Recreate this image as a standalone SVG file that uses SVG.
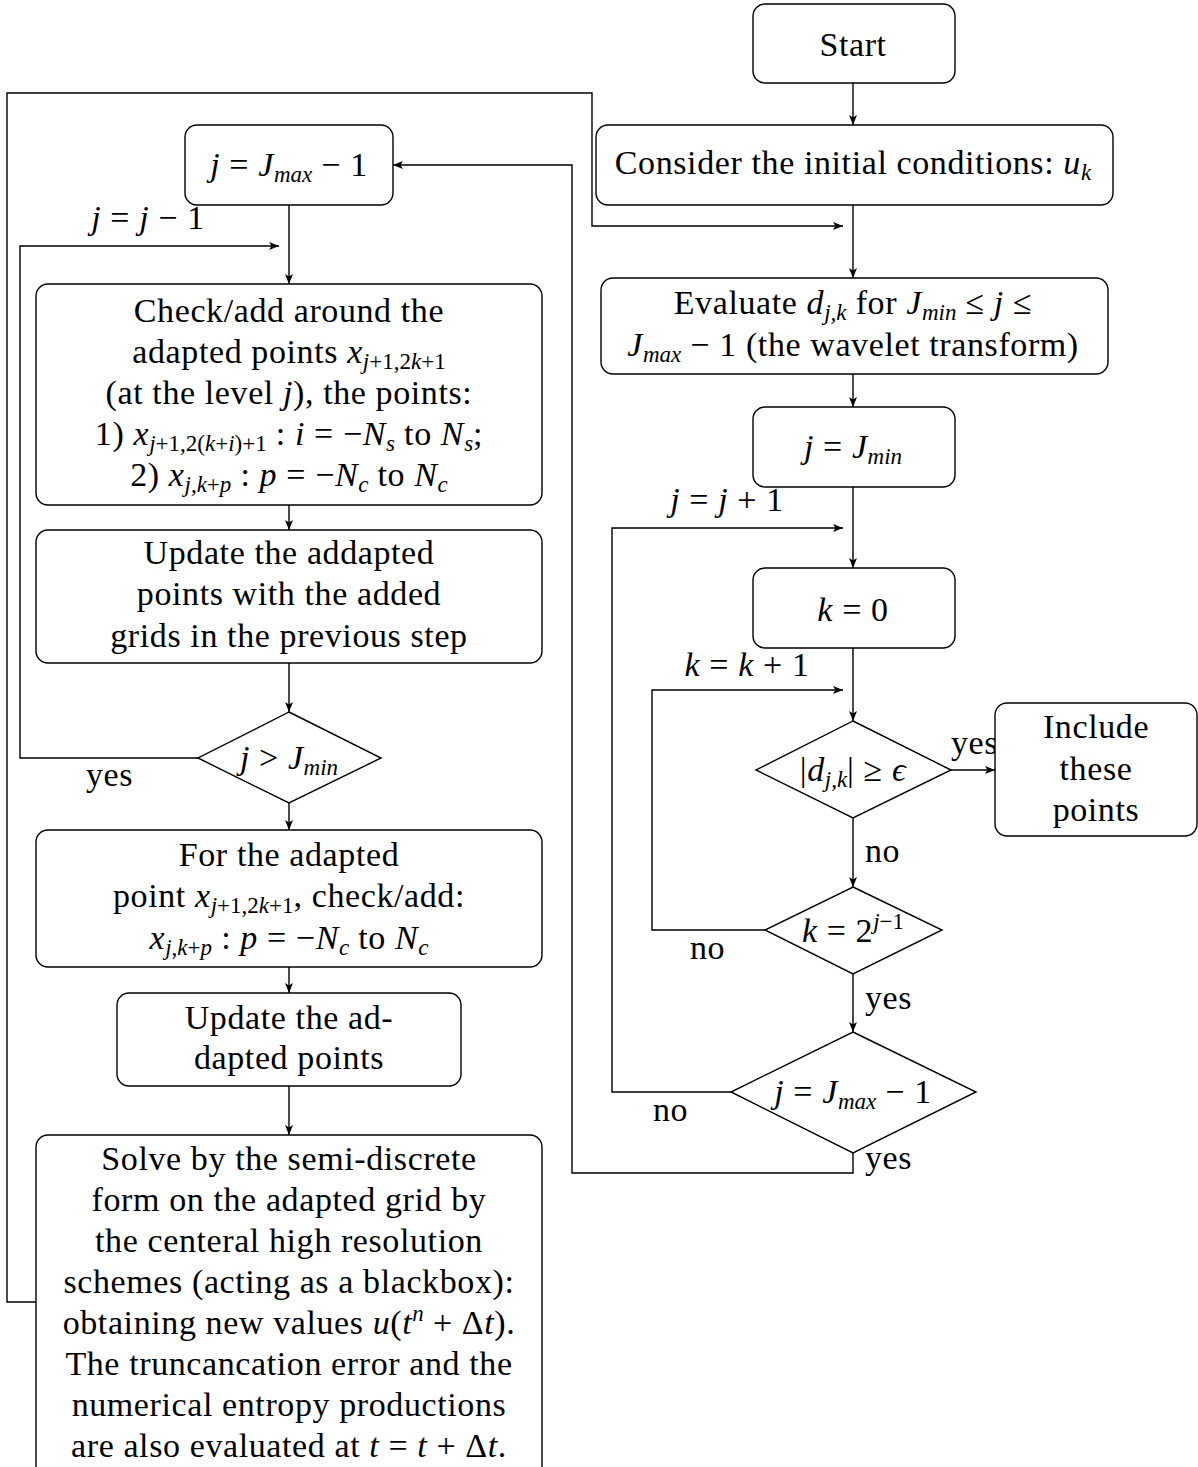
<svg xmlns="http://www.w3.org/2000/svg" width="1198" height="1467" viewBox="0 0 1198 1467">
<style>
.box{fill:#fff;stroke:#000;stroke-width:1.4}
.dia{fill:#fff;stroke:#000;stroke-width:1.4}
.t{font-family:"Liberation Serif",serif;font-size:34px;letter-spacing:0.6px;text-anchor:middle;fill:#000}
.l{font-family:"Liberation Serif",serif;font-size:34px;letter-spacing:0.6px;fill:#000}
.i{font-style:italic}
.s{font-size:23px;letter-spacing:0}
.c{fill:none;stroke:#000;stroke-width:1.4}
</style>
<defs>
<marker id="a" markerUnits="userSpaceOnUse" markerWidth="11" markerHeight="9" refX="10" refY="4.5" orient="auto">
<path d="M0,0.5 L10,4.5 L0,8.5 L2.5,4.5 z" fill="#000"/>
</marker>
</defs>
<g id="connectors">
<path class="c" d="M853,83 V125" marker-end="url(#a)"/>
<path class="c" d="M853,205 V278" marker-end="url(#a)"/>
<path class="c" d="M853,374 V407" marker-end="url(#a)"/>
<path class="c" d="M853,487 V568" marker-end="url(#a)"/>
<path class="c" d="M853,648 V721" marker-end="url(#a)"/>
<path class="c" d="M951,770 H995" marker-end="url(#a)"/>
<path class="c" d="M853,818 V887" marker-end="url(#a)"/>
<path class="c" d="M853,974 V1032" marker-end="url(#a)"/>
<path class="c" d="M765,930 H652 V690 H843" marker-end="url(#a)"/>
<path class="c" d="M731,1092 H612 V528 H843" marker-end="url(#a)"/>
<path class="c" d="M853,1153 V1173 H572 V165 H393" marker-end="url(#a)"/>
<path class="c" d="M289,205 V284" marker-end="url(#a)"/>
<path class="c" d="M289,505 V530" marker-end="url(#a)"/>
<path class="c" d="M289,663 V712" marker-end="url(#a)"/>
<path class="c" d="M198,758 H20 V246 H279" marker-end="url(#a)"/>
<path class="c" d="M289,803 V830" marker-end="url(#a)"/>
<path class="c" d="M289,967 V993" marker-end="url(#a)"/>
<path class="c" d="M289,1086 V1135" marker-end="url(#a)"/>
<path class="c" d="M36,1302 H7 V93 H592 V226 H843" marker-end="url(#a)"/>
</g>
<g id="labels">
<text class="t" x="727" y="511"><tspan class="i">j</tspan> = <tspan class="i">j</tspan> + 1</text>
<text class="t" x="747" y="676"><tspan class="i">k</tspan> = <tspan class="i">k</tspan> + 1</text>
<text class="l" x="951" y="754">yes</text>
<text class="l" x="865" y="862">no</text>
<text class="l" x="690" y="959">no</text>
<text class="l" x="865" y="1009">yes</text>
<text class="l" x="653" y="1121">no</text>
<text class="l" x="865" y="1169">yes</text>
<text class="t" x="148" y="229"><tspan class="i">j</tspan> = <tspan class="i">j</tspan> − 1</text>
<text class="l" x="86" y="786">yes</text>
</g>
<g id="start">
<rect class="box" x="753" y="4" width="202" height="79" rx="12"/>
<text class="t" x="853" y="56">Start</text>
</g>
<g id="initial">
<rect class="box" x="596" y="125" width="517" height="80" rx="12"/>
<text class="t" x="853" y="174">Consider the initial conditions: <tspan class="i">u</tspan><tspan class="s i" dy="6">k</tspan></text>
</g>
<g id="evaluate">
<rect class="box" x="601" y="278" width="507" height="96" rx="12"/>
<text class="t" x="853" y="314">Evaluate <tspan class="i">d</tspan><tspan class="s" dy="6"><tspan class="i">j,k</tspan></tspan><tspan dy="-6"> for </tspan><tspan class="i">J</tspan><tspan class="s i" dy="6">min</tspan><tspan dy="-6"> ≤ </tspan><tspan class="i">j</tspan> ≤</text>
<text class="t" x="853" y="356"><tspan class="i">J</tspan><tspan class="s i" dy="6">max</tspan><tspan dy="-6"> − 1 (the wavelet transform)</tspan></text>
</g>
<g id="jmin">
<rect class="box" x="753" y="407" width="202" height="80" rx="12"/>
<text class="t" x="853" y="458"><tspan class="i">j</tspan> = <tspan class="i">J</tspan><tspan class="s i" dy="6">min</tspan></text>
</g>
<g id="k0">
<rect class="box" x="753" y="568" width="202" height="80" rx="12"/>
<text class="t" x="853" y="621"><tspan class="i">k</tspan> = 0</text>
</g>
<g id="dcheck">
<polygon class="dia" points="853,721 951,770 853,818 756,770"/>
<text class="t" x="853" y="781">|<tspan class="i">d</tspan><tspan class="s i" dy="6">j,k</tspan><tspan dy="-6">| ≥ </tspan><tspan class="i">ϵ</tspan></text>
</g>
<g id="include">
<rect class="box" x="995" y="703" width="202" height="133" rx="12"/>
<text class="t" x="1096" y="738">Include</text>
<text class="t" x="1096" y="780">these</text>
<text class="t" x="1096" y="821">points</text>
</g>
<g id="kcheck">
<polygon class="dia" points="853,887 942,930 853,974 765,930"/>
<text class="t" x="853" y="942"><tspan class="i">k</tspan> = 2<tspan class="s" dy="-13"><tspan class="i">j</tspan>−1</tspan></text>
</g>
<g id="jmaxcheck">
<polygon class="dia" points="853,1032 976,1092 853,1153 731,1092"/>
<text class="t" x="853" y="1103"><tspan class="i">j</tspan> = <tspan class="i">J</tspan><tspan class="s i" dy="6">max</tspan><tspan dy="-6"> − 1</tspan></text>
</g>
<g id="jmax">
<rect class="box" x="185" y="125" width="208" height="80" rx="12"/>
<text class="t" x="289" y="176"><tspan class="i">j</tspan> = <tspan class="i">J</tspan><tspan class="s i" dy="6">max</tspan><tspan dy="-6"> − 1</tspan></text>
</g>
<g id="checkadd">
<rect class="box" x="36" y="284" width="506" height="221" rx="12"/>
<text class="t" x="289" y="322">Check/add around the</text>
<text class="t" x="289" y="363">adapted points <tspan class="i">x</tspan><tspan class="s" dy="6"><tspan class="i">j</tspan>+1,2<tspan class="i">k</tspan>+1</tspan></text>
<text class="t" x="289" y="404">(at the level <tspan class="i">j</tspan>), the points:</text>
<text class="t" x="289" y="445">1) <tspan class="i">x</tspan><tspan class="s" dy="6"><tspan class="i">j</tspan>+1,2(<tspan class="i">k</tspan>+<tspan class="i">i</tspan>)+1</tspan><tspan dy="-6"> : </tspan><tspan class="i">i</tspan> = −<tspan class="i">N</tspan><tspan class="s i" dy="6">s</tspan><tspan dy="-6"> to </tspan><tspan class="i">N</tspan><tspan class="s i" dy="6">s</tspan><tspan dy="-6">;</tspan></text>
<text class="t" x="289" y="486">2) <tspan class="i">x</tspan><tspan class="s" dy="6"><tspan class="i">j</tspan>,<tspan class="i">k</tspan>+<tspan class="i">p</tspan></tspan><tspan dy="-6"> : </tspan><tspan class="i">p</tspan> = −<tspan class="i">N</tspan><tspan class="s i" dy="6">c</tspan><tspan dy="-6"> to </tspan><tspan class="i">N</tspan><tspan class="s i" dy="6">c</tspan></text>
</g>
<g id="update1">
<rect class="box" x="36" y="530" width="506" height="133" rx="12"/>
<text class="t" x="289" y="564">Update the addapted</text>
<text class="t" x="289" y="605">points with the added</text>
<text class="t" x="289" y="647">grids in the previous step</text>
</g>
<g id="jgt">
<polygon class="dia" points="289,712 381,758 289,803 198,758"/>
<text class="t" x="289" y="769"><tspan class="i">j</tspan> &gt; <tspan class="i">J</tspan><tspan class="s i" dy="6">min</tspan></text>
</g>
<g id="forpoint">
<rect class="box" x="36" y="830" width="506" height="137" rx="12"/>
<text class="t" x="289" y="866">For the adapted</text>
<text class="t" x="289" y="907">point <tspan class="i">x</tspan><tspan class="s" dy="6"><tspan class="i">j</tspan>+1,2<tspan class="i">k</tspan>+1</tspan><tspan dy="-6">, check/add:</tspan></text>
<text class="t" x="289" y="949"><tspan class="i">x</tspan><tspan class="s" dy="6"><tspan class="i">j</tspan>,<tspan class="i">k</tspan>+<tspan class="i">p</tspan></tspan><tspan dy="-6"> :  </tspan><tspan class="i">p</tspan> = −<tspan class="i">N</tspan><tspan class="s i" dy="6">c</tspan><tspan dy="-6"> to </tspan><tspan class="i">N</tspan><tspan class="s i" dy="6">c</tspan></text>
</g>
<g id="update2">
<rect class="box" x="117" y="993" width="344" height="93" rx="12"/>
<text class="t" x="289" y="1029">Update the ad-</text>
<text class="t" x="289" y="1069">dapted points</text>
</g>
<g id="solve">
<rect class="box" x="36" y="1135" width="506" height="345" rx="12"/>
<text class="t" x="289" y="1170">Solve by the semi-discrete</text>
<text class="t" x="289" y="1211">form on the adapted grid by</text>
<text class="t" x="289" y="1252">the centeral high resolution</text>
<text class="t" x="289" y="1293">schemes (acting as a blackbox):</text>
<text class="t" x="289" y="1334">obtaining new values <tspan class="i">u</tspan>(<tspan class="i">t</tspan><tspan class="s i" dy="-13">n</tspan><tspan dy="13"> + Δ</tspan><tspan class="i">t</tspan>).</text>
<text class="t" x="289" y="1375">The truncancation error and the</text>
<text class="t" x="289" y="1416">numerical entropy productions</text>
<text class="t" x="289" y="1457">are also evaluated at <tspan class="i">t</tspan> = <tspan class="i">t</tspan> + Δ<tspan class="i">t</tspan>.</text>
</g>
</svg>
